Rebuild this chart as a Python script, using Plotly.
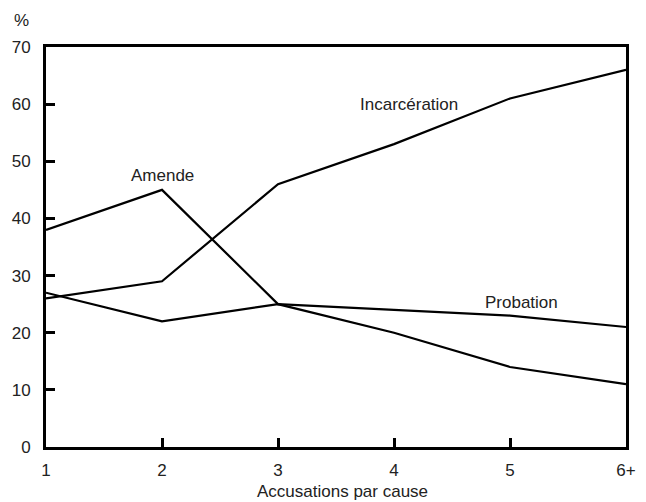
import plotly.graph_objects as go

categories = ["1", "2", "3", "4", "5", "6+"]
incarceration = [26, 29, 46, 53, 61, 66]
amende = [38, 45, 25, 20, 14, 11]
probation = [27, 22, 25, 24, 23, 21]
y_ticks = [0, 10, 20, 30, 40, 50, 60, 70]

xpos = list(range(len(categories)))

fig = go.Figure()
line = dict(color="black", width=2.2)
for name, vals in [("Incarcération", incarceration), ("Amende", amende), ("Probation", probation)]:
    fig.add_trace(go.Scatter(x=xpos, y=vals, mode="lines", line=line, name=name, showlegend=False))

font = dict(family="Liberation Sans, Arial, sans-serif", size=17, color="#222")

annots = [
    dict(x=1.0, y=47.5, text="Amende"),
    dict(x=3.13, y=60.0, text="Incarcération"),
    dict(x=4.1, y=25.3, text="Probation"),
]
for a in annots:
    fig.add_annotation(x=a["x"], y=a["y"], text=a["text"], showarrow=False, font=font,
                       xref="x", yref="y")
fig.add_annotation(x=0, y=1.0, xref="paper", yref="paper", text="%", showarrow=False,
                   xanchor="center", yanchor="middle", xshift=-25, yshift=27, font=font)
fig.add_annotation(x=0.5, y=0, xref="paper", yref="paper", text="Accusations par cause",
                   showarrow=False, xanchor="center", yanchor="middle", xshift=6, yshift=-44, font=font)

fig.update_layout(
    width=630, height=494,
    margin=dict(l=38, r=12, t=39, b=55, autoexpand=False),
    plot_bgcolor="white", paper_bgcolor="white",
    font=font,
)
fig.update_xaxes(
    range=[0, 5], tickmode="array", tickvals=xpos, ticktext=categories,
    showgrid=False, zeroline=False, showline=True, linecolor="black", linewidth=3,
    mirror=True, ticks="inside", ticklen=9, tickwidth=3, tickcolor="black",
    ticklabelstandoff=6, automargin=False,
)
fig.update_yaxes(
    range=[0, 70], tickmode="array", tickvals=y_ticks,
    showgrid=False, zeroline=False, showline=True, linecolor="black", linewidth=3,
    mirror=True, ticks="inside", ticklen=9, tickwidth=3, tickcolor="black",
    ticklabelstandoff=9, automargin=False,
)

fig.write_html("out.html")
